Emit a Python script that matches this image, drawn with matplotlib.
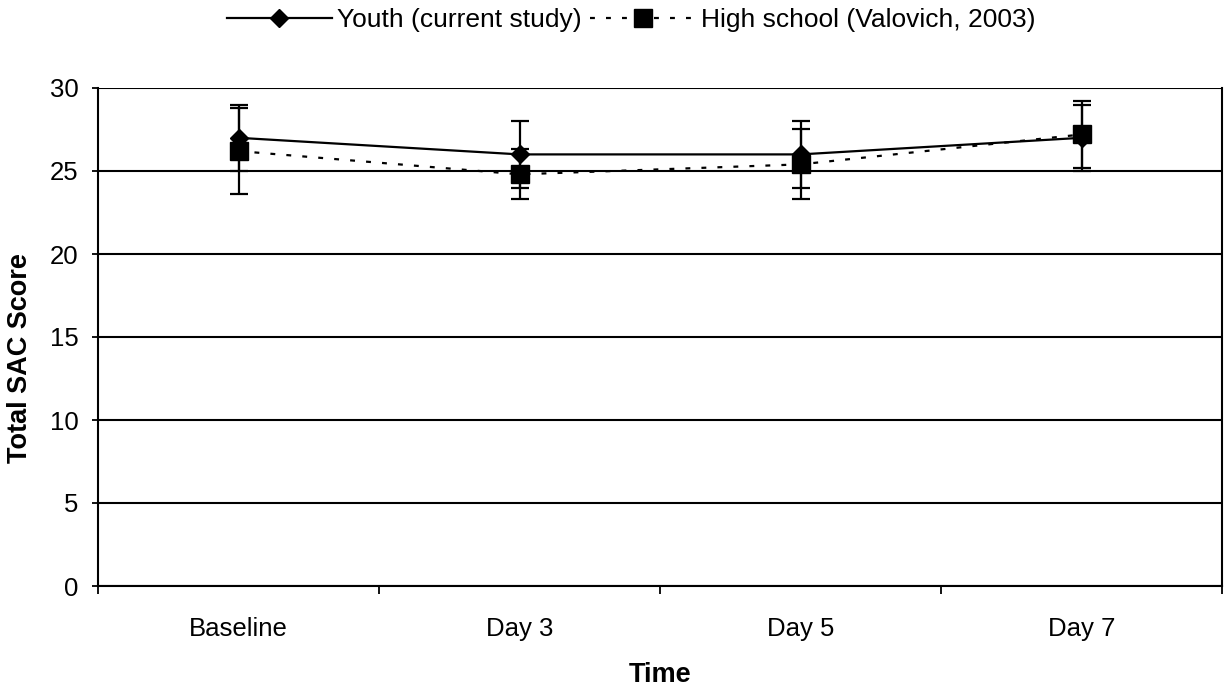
import matplotlib
matplotlib.use("Agg")
import matplotlib.pyplot as plt
from matplotlib.ticker import FixedLocator
from matplotlib.lines import Line2D
import numpy as np

plt.rcParams['font.family'] = ['Liberation Sans', 'DejaVu Sans']

categories = ["Baseline", "Day 3", "Day 5", "Day 7"]
youth_mean = [27.0, 26.0, 26.0, 27.0]
youth_sd = [2.0, 2.0, 2.0, 2.0]
hs_mean = [26.2, 24.8, 25.4, 27.2]
hs_sd = [2.6, 1.5, 2.1, 2.0]
y_ticks = [0, 5, 10, 15, 20, 25, 30]

fig = plt.figure(figsize=(12.25, 6.88), dpi=100)
ax = fig.add_axes([98/1225, 1 - 586/688, (1222-98)/1225, (586-88)/688])

x = np.arange(len(categories))
hs_ls = (0, (2.2, 5))

ax.errorbar(x, youth_mean, yerr=youth_sd, color='black', lw=1.6,
            marker='D', markersize=9, capsize=6.5, capthick=1.6, elinewidth=1.6,
            zorder=4)
ax.errorbar(x, hs_mean, yerr=hs_sd, color='black', lw=1.6, ls=hs_ls,
            marker='s', markersize=12.5, capsize=6.5, capthick=1.6, elinewidth=1.6,
            zorder=3)

ax.set_xlim(-0.5, len(categories) - 0.5)
ax.set_ylim(0, 30)
ax.set_yticks(y_ticks)
ax.set_xticks(x)
ax.set_xticklabels(categories)
ax.xaxis.set_minor_locator(FixedLocator(np.arange(-0.5, len(categories), 1.0)))
ax.tick_params(axis='x', which='major', length=0, labelsize=18.5, pad=22)
ax.tick_params(axis='x', which='minor', length=6, width=1.3, direction='out')
ax.tick_params(axis='y', length=4, width=1.3, labelsize=18.5, pad=10)

ax.yaxis.grid(True, color='black', lw=1.5)
ax.set_axisbelow(True)
for s in ax.spines.values():
    s.set_linewidth(1.5)
ax.spines['top'].set_visible(False)

ax.set_xlabel('Time', fontsize=19.5, fontweight='bold')
ax.set_ylabel('Total SAC Score', fontsize=19.5, fontweight='bold')
ax.xaxis.set_label_coords(0.5, (586 - 662) / 498)
ax.yaxis.set_label_coords((33 - 98) / 1124, (586 - 358) / 498)

handles = [
    Line2D([], [], color='black', lw=1.6, marker='D', markersize=9),
    Line2D([], [], color='black', lw=1.6, ls=hs_ls, marker='s', markersize=12.5),
]
labels = ['Youth (current study)', 'High school (Valovich, 2003)']
fig.legend(handles, labels, loc='center', bbox_to_anchor=(631/1225, 1 - 20/688),
           ncol=2, frameon=False, fontsize=19, handlelength=4.0,
           columnspacing=0.3, handletextpad=0.2, borderpad=0)

fig.savefig('out.png', dpi=100)
